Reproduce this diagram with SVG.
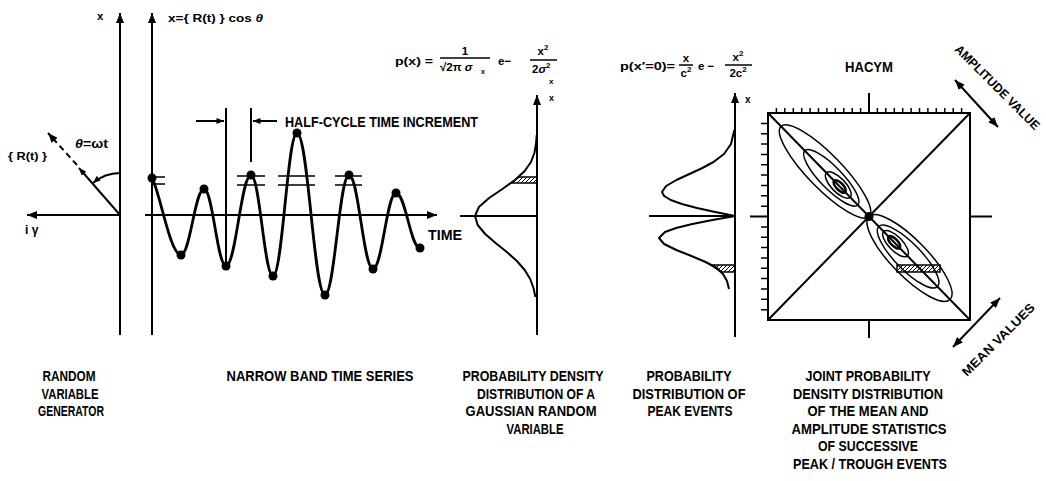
<svg xmlns="http://www.w3.org/2000/svg" width="1046" height="481" viewBox="0 0 1046 481">
<defs>
<style>
.ln{stroke:#000;stroke-width:2;fill:none}
.thin{stroke:#000;stroke-width:1.5;fill:none}
.wave{stroke:#000;stroke-width:2.8;fill:none;stroke-linejoin:round}
.t{font-family:"Liberation Sans",Arial,sans-serif;font-weight:bold;fill:#000}
.lab{font-size:15px;text-anchor:middle}
.f{font-size:11.5px}
.dot{fill:#000}
</style>
<marker id="ah" viewBox="0 0 10 8" refX="10" refY="4" markerWidth="10" markerHeight="8" markerUnits="userSpaceOnUse" orient="auto-start-reverse"><path d="M0,0L10,4L0,8z" fill="#000"/></marker>
<marker id="ahs" viewBox="0 0 10 8" refX="10" refY="4" markerWidth="8" markerHeight="6" markerUnits="userSpaceOnUse" orient="auto-start-reverse"><path d="M0,0L10,4L0,8z" fill="#000"/></marker>
<pattern id="hatch" width="4" height="4" patternUnits="userSpaceOnUse"><path d="M-1,5L5,-1" stroke="#000" stroke-width="1"/></pattern>
</defs>

<g id="connectors">
<line class="ln" x1="120" y1="335" x2="120" y2="13" marker-end="url(#ah)"/>
<line class="ln" x1="120" y1="215" x2="27" y2="215" marker-end="url(#ah)"/>
<line class="ln" x1="120" y1="215" x2="79" y2="168" marker-end="url(#ahs)"/>
<line class="ln" x1="77" y1="165" x2="48" y2="133" stroke-dasharray="6,4" marker-end="url(#ah)"/>
<path class="ln" d="M120,173 A42,42 0 0 0 93,183" marker-end="url(#ahs)"/>
<line class="ln" x1="152" y1="335" x2="152" y2="13" marker-end="url(#ah)"/>
<line class="ln" x1="145" y1="215" x2="437" y2="215" marker-end="url(#ah)"/>
<line class="ln" x1="226" y1="108" x2="226" y2="266"/>
<line class="ln" x1="251" y1="108" x2="251" y2="162"/>
<line class="ln" x1="196" y1="121" x2="224" y2="121" marker-end="url(#ahs)"/>
<line class="ln" x1="277" y1="121" x2="253" y2="121" marker-end="url(#ahs)"/>
<line class="ln" x1="537" y1="335" x2="537" y2="95" marker-end="url(#ah)"/>
<line class="ln" x1="460" y1="216" x2="537" y2="216"/>
<line class="ln" x1="735" y1="337" x2="735" y2="93" marker-end="url(#ah)"/>
<line class="ln" x1="649" y1="216" x2="735" y2="216"/>
<line class="ln" x1="955" y1="80" x2="998" y2="127" marker-start="url(#ah)" marker-end="url(#ah)"/>
<line class="ln" x1="953" y1="347" x2="1000" y2="298" marker-start="url(#ah)" marker-end="url(#ah)"/>
</g>

<g id="random-variable-generator">
<text class="t f" x="97" y="20">x</text>
<text class="t" x="25" y="234" font-size="12">i γ</text>
<text class="t" x="8" y="160" font-size="11.5" textLength="39" lengthAdjust="spacingAndGlyphs">{ R(t) }</text>
<text class="t" x="75" y="148" font-size="13" textLength="33" lengthAdjust="spacingAndGlyphs"><tspan font-style="italic">θ</tspan>=ωt</text>
<text class="t lab" x="69" y="381" textLength="53" lengthAdjust="spacingAndGlyphs">RANDOM</text>
<text class="t lab" x="70" y="398.5" textLength="57" lengthAdjust="spacingAndGlyphs">VARIABLE</text>
<text class="t lab" x="71" y="416" textLength="66" lengthAdjust="spacingAndGlyphs">GENERATOR</text>
</g>

<g id="narrow-band-time-series">
<text class="t f" x="168" y="22" textLength="95" lengthAdjust="spacingAndGlyphs">x={ R(t) } cos <tspan font-style="italic">θ</tspan></text>
<path class="wave" d="M152,178 C160,192 170,255 181,255 C190.2,255 194.8,189 204,189 C212.8,189 217.2,266 226,266 C236,266 241,175 251,175 C259.8,175 264.2,276 273,276 C282.6,276 287.4,133 297,133 C308.2,133 313.8,295 325,295 C334.6,295 339.4,175 349,175 C358.6,175 363.4,269 373,269 C382.2,269 386.8,193 396,193 C405.6,193 410.4,248 420,248"/>
<g class="dot">
<circle cx="152" cy="178" r="4.5"/><circle cx="181" cy="255" r="4.5"/><circle cx="204" cy="189" r="4.5"/><circle cx="226" cy="266" r="4.5"/><circle cx="251" cy="175" r="4.5"/><circle cx="273" cy="276" r="4.5"/><circle cx="297" cy="133" r="4.5"/><circle cx="325" cy="295" r="4.5"/><circle cx="349" cy="175" r="4.5"/><circle cx="373" cy="269" r="4.5"/><circle cx="396" cy="193" r="4.5"/><circle cx="420" cy="248" r="4.5"/>
</g>
<path class="thin" d="M152,177H165M152,184H165M237,176H265M237,185H265M278,176H315M278,185H315M335,176H362M335,185H362"/>
<text class="t" x="285" y="127" font-size="15" textLength="193" lengthAdjust="spacingAndGlyphs">HALF-CYCLE TIME INCREMENT</text>
<text class="t" x="428" y="240" font-size="15" textLength="34" lengthAdjust="spacingAndGlyphs">TIME</text>
<text class="t lab" x="320" y="381" textLength="187" lengthAdjust="spacingAndGlyphs">NARROW BAND TIME SERIES</text>
</g>

<g id="gaussian-density">
<text class="t f" x="395" y="65" textLength="38" lengthAdjust="spacingAndGlyphs">p(x) =</text>
<text class="t f" x="465" y="55" text-anchor="middle">1</text>
<line class="thin" x1="440" y1="58" x2="490" y2="58"/>
<text class="t f" x="440" y="71">√2π <tspan font-style="italic">σ</tspan></text>
<text class="t" x="481" y="74" font-size="7">x</text>
<text class="t f" x="498" y="65">e−</text>
<text class="t f" x="543" y="55" text-anchor="middle">x<tspan font-size="8" dy="-5">2</tspan></text>
<line class="thin" x1="530" y1="60" x2="557" y2="60"/>
<text class="t f" x="532" y="73">2<tspan font-style="italic">σ</tspan><tspan font-size="8" dy="-5">2</tspan></text>
<text class="t" x="549" y="84" font-size="8">x</text>
<text class="t" x="549" y="101" font-size="9">x</text>
<polyline class="ln" stroke-linejoin="round" points="536.7,135 536,144 534.4,153 531,162 524.7,171 515,180 502.4,189 489.1,198 478.9,207 475,216 477.7,225 485.2,234 495.6,243 506.8,252 516.9,261 524.7,270 530.2,279 533.5,288 535.4,297"/>
<polygon points="519,177 537,177 537,183 511,183" fill="url(#hatch)" stroke="#000" stroke-width="1.5"/>
<text class="t lab" x="533" y="381" textLength="141" lengthAdjust="spacingAndGlyphs">PROBABILITY DENSITY</text>
<text class="t lab" x="536" y="398.5" textLength="118" lengthAdjust="spacingAndGlyphs">DISTRIBUTION OF A</text>
<text class="t lab" x="531" y="416" textLength="131" lengthAdjust="spacingAndGlyphs">GAUSSIAN RANDOM</text>
<text class="t lab" x="535" y="433.5" textLength="57" lengthAdjust="spacingAndGlyphs">VARIABLE</text>
</g>

<g id="peak-distribution">
<text class="t f" x="620" y="70" textLength="55" lengthAdjust="spacingAndGlyphs">p(x′=0)=</text>
<text class="t f" x="686" y="62" text-anchor="middle">x</text>
<line class="thin" x1="679" y1="65" x2="693" y2="65"/>
<text class="t f" x="686" y="77" text-anchor="middle">c<tspan font-size="8" dy="-5">2</tspan></text>
<text class="t f" x="698" y="70">e −</text>
<text class="t f" x="738" y="61" text-anchor="middle">x<tspan font-size="8" dy="-5">2</tspan></text>
<line class="thin" x1="725" y1="65" x2="752" y2="65"/>
<text class="t f" x="738" y="77" text-anchor="middle">2c<tspan font-size="8" dy="-5">2</tspan></text>
<text class="t" x="745" y="103" font-size="10">x</text>
<polyline class="ln" stroke-linejoin="round" points="734.3,130 731,144 724,154 713.5,162 702.4,168 689.4,174 676.4,180 666.1,186 662,192 664.1,196 670.7,200 681.9,204 697,208 715.2,212 735,216 712.6,220 692.3,224 676.1,228 665,232 659,238 664.1,244 676.3,250 691.4,256 705.6,262 716.8,268 723,274 727,281 729,289"/>
<polygon points="711,265 735,265 735,272 721,272" fill="url(#hatch)" stroke="#000" stroke-width="1.5"/>
<text class="t lab" x="689" y="381" textLength="85" lengthAdjust="spacingAndGlyphs">PROBABILITY</text>
<text class="t lab" x="689" y="398.5" textLength="113" lengthAdjust="spacingAndGlyphs">DISTRIBUTION OF</text>
<text class="t lab" x="690" y="416" textLength="85" lengthAdjust="spacingAndGlyphs">PEAK EVENTS</text>
</g>

<g id="joint-distribution">
<text class="t" x="869" y="72" font-size="14" text-anchor="middle" textLength="48" lengthAdjust="spacingAndGlyphs">HACYM</text>
<rect class="ln" x="768" y="113" width="202" height="207"/>
<path class="ln" d="M768,113L970,320M768,320L970,113"/>
<path class="thin" d="M776.4,113V108M784.8,113V108M793.3,113V108M801.7,113V108M810.1,113V108M818.5,113V108M826.9,113V108M835.3,113V108M843.8,113V108M852.2,113V108M860.6,113V108M877.4,113V108M885.8,113V108M894.3,113V108M902.7,113V108M911.1,113V108M919.5,113V108M927.9,113V108M936.3,113V108M944.8,113V108M953.2,113V108M961.6,113V108M768,123.4H761M768,133.7H761M768,144.1H761M768,154.4H761M768,164.8H761M768,175.1H761M768,185.5H761M768,195.8H761M768,206.2H761M768,226.9H761M768,237.2H761M768,247.6H761M768,257.9H761M768,268.3H761M768,278.6H761M768,289H761M768,299.3H761M768,309.7H761"/>
<path class="ln" d="M869,113V93M750,216.5H768M970,216.5H992M869,320V338"/>
<g transform="translate(869,216.5) rotate(45.7)" class="thin">
<ellipse cx="-63" cy="0" rx="63" ry="17"/>
<ellipse cx="-54" cy="0" rx="38" ry="11"/>
<ellipse cx="-44" cy="0" rx="17" ry="7"/>
<ellipse cx="-42" cy="0" rx="8" ry="3.5" stroke-width="2.5"/>
<ellipse cx="58" cy="0" rx="58" ry="18"/>
<ellipse cx="56" cy="0" rx="42" ry="13"/>
<ellipse cx="38" cy="0" rx="17" ry="7"/>
<ellipse cx="36" cy="0" rx="8" ry="3.5" stroke-width="2.5"/>
</g>
<polygon points="897,265 940,265 940,272 897,272" fill="url(#hatch)" stroke="#000" stroke-width="1.5"/>
<circle class="dot" cx="869" cy="216.5" r="4.5"/>
<text class="t" font-size="12.5" transform="translate(954,50) rotate(45)" textLength="114" lengthAdjust="spacingAndGlyphs">AMPLITUDE VALUE</text>
<text class="t" font-size="12.5" transform="translate(967,377) rotate(-45)" textLength="97" lengthAdjust="spacingAndGlyphs">MEAN VALUES</text>
<text class="t lab" x="868" y="381" textLength="125" lengthAdjust="spacingAndGlyphs">JOINT PROBABILITY</text>
<text class="t lab" x="868" y="398.5" textLength="150" lengthAdjust="spacingAndGlyphs">DENSITY DISTRIBUTION</text>
<text class="t lab" x="868" y="416" textLength="121" lengthAdjust="spacingAndGlyphs">OF THE MEAN AND</text>
<text class="t lab" x="869" y="433.5" textLength="155" lengthAdjust="spacingAndGlyphs">AMPLITUDE STATISTICS</text>
<text class="t lab" x="868" y="451" textLength="100" lengthAdjust="spacingAndGlyphs">OF SUCCESSIVE</text>
<text class="t lab" x="870" y="468.5" textLength="154" lengthAdjust="spacingAndGlyphs">PEAK / TROUGH EVENTS</text>
</g>
</svg>
